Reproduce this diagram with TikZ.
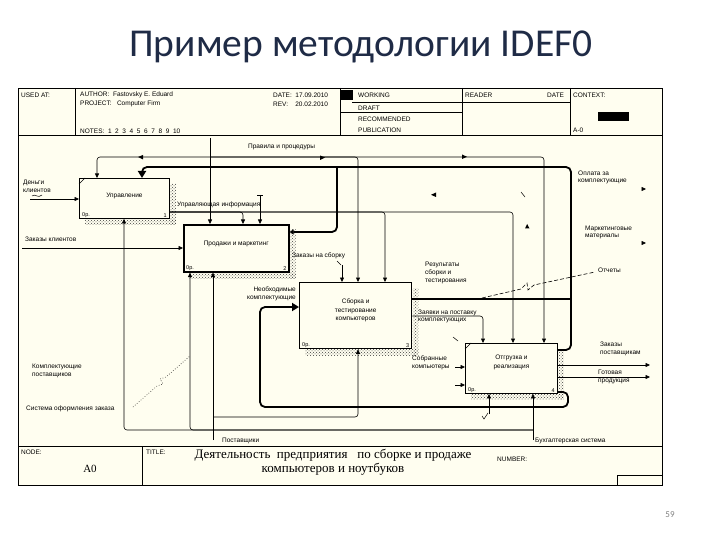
\documentclass[tikz,border=0pt]{standalone}
\usepackage{fontspec}
\setmainfont{Liberation Sans}
\newfontfamily\slidefont{Carlito}
\newfontfamily\serifface{Liberation Serif}
\usetikzlibrary{arrows.meta,calc,patterns}
\definecolor{cream}{HTML}{FFFEF0}
\definecolor{navy}{HTML}{1F2B46}
\newcommand{\boxshade}[1]{%
  \fill[pattern=crosshatch dots,pattern color=black!75] ($(#1.north east)+(0.5,6)$) rectangle ($(#1.south east)+(6,6)$);
  \fill[pattern=crosshatch dots,pattern color=black!75] ($(#1.south west)+(6,0.5)$) rectangle ($(#1.south east)+(6,6)$);}
\begin{document}
\begin{tikzpicture}[x=1pt,y=-1pt,
  lbl/.style={font=\fontsize{6.5}{7.8}\selectfont,inner sep=0pt,anchor=west,align=left},
  hdr/.style={font=\fontsize{6.5}{7}\selectfont,inner sep=0pt,anchor=west},
  fbox/.style={draw,fill=cream,line width=0.9pt,anchor=north west,inner sep=0pt},
  btxt/.style={font=\fontsize{6.5}{8.5}\selectfont,inner sep=0pt,align=center},
  corner/.style={font=\fontsize{5.5}{6}\selectfont,inner sep=0pt},
  ln/.style={draw,line width=0.6pt,rounded corners=3pt},
  thk/.style={draw,line width=1.8pt,rounded corners=5pt},
  tip/.style={-{Triangle[length=4.5pt,width=4pt]}},
  bigtip/.style={-{Triangle[length=7pt,width=8pt]}},
  smalltip/.style={-{Triangle[length=4pt,width=5pt]}},
]
\useasboundingbox (0,0) rectangle (720,540);
\fill[white] (0,0) rectangle (720,540);
\node[font=\slidefont\fontsize{39.5}{41}\selectfont,text=navy,inner sep=0pt] (title) at (361,47) {Пример методологии IDEF0};
\node[font=\slidefont\fontsize{9}{10}\selectfont,text=gray,inner sep=0pt] (pg) at (670,515) {59};
% frame
\fill[cream] (18,88) rectangle (662,485);
\draw[line width=0.7pt] (18,88) rectangle (662,485);
% header
\draw[line width=0.7pt] (18,135) -- (662,135);
\draw[line width=0.6pt] (75,88) -- (75,135) (340,88) -- (340,135) (462,88) -- (462,135) (570,88) -- (570,135);
\draw[line width=0.6pt] (352,102) -- (570,102) (340,112) -- (462,112);
\fill (340,90) rectangle (353,100);
\fill (598,112) rectangle (629,121);
\node[hdr] (ua) at (21,95) {USED AT:};
\node[hdr] (au) at (80,95) {AUTHOR:\ \ Fastovsky E. Eduard};
\node[hdr] (pr) at (80,104) {PROJECT:\ \ \ Computer Firm};
\node[hdr] (dt) at (273,95) {DATE:\ \ 17.09.2010};
\node[hdr] (rv) at (273,104) {REV:\ \ \ \ 20.02.2010};
\node[hdr] (nt) at (80,131) {NOTES:\ \ 1\ \ 2\ \ 3\ \ 4\ \ 5\ \ 6\ \ 7\ \ 8\ \ 9\ \ 10};
\node[hdr] (wk) at (358,95) {WORKING};
\node[hdr] (dr) at (358,108) {DRAFT};
\node[hdr] (rc) at (358,119) {RECOMMENDED};
\node[hdr] (pb) at (358,130) {PUBLICATION};
\node[hdr] (rd) at (465,95) {READER};
\node[hdr] (rdt) at (547,95) {DATE};
\node[hdr] (ctx) at (573,95) {CONTEXT:};
\node[hdr] (a0c) at (573,130) {A-0};
% footer
\draw[line width=0.7pt] (18,446) -- (662,446);
\draw[line width=0.6pt] (142,446) -- (142,485);
\draw[line width=0.6pt] (617,475) rectangle (662,485);
\node[hdr] (nd) at (21,452) {NODE:};
\node[font=\serifface\fontsize{11}{12}\selectfont,inner sep=0pt] (a0) at (90,469) {A0};
\node[hdr] (tl) at (146,452) {TITLE:};
\node[font=\serifface\fontsize{13}{13.5}\selectfont,inner sep=0pt,align=center] (ttl) at (333,462) {Деятельность\ \ предприятия\ \ \ по сборке и\ продаже\\компьютеров и ноутбуков};
\node[hdr] (num) at (497,459) {NUMBER:};

% boxes
\node[fbox,minimum width=90pt,minimum height=40pt] (b1) at (79,178) {};
\node[fbox,line width=1.6pt,minimum width=105pt,minimum height=47pt] (b2) at (183,224) {};
\node[fbox,line width=1.3pt,minimum width=112pt,minimum height=66pt] (b3) at (299,282) {};
\node[fbox,minimum width=92pt,minimum height=50pt] (b4) at (465,343) {};
\boxshade{b1}\boxshade{b2}\boxshade{b3}\boxshade{b4}
\draw[line width=0.6pt] ($(b1.north west)+(0,6)$) -- ($(b1.north west)+(6,0)$);
\draw[line width=0.6pt] ($(b4.north west)+(0,6)$) -- ($(b4.north west)+(6,0)$);
\node[btxt] (t1) at ($(b1.center)+(0,-3)$) {Управление};
\node[btxt] (t2) at ($(b2.center)+(0,-4)$) {Продажи и маркетинг};
\node[btxt] (t3) at ($(b3.center)+(0,-5)$) {Сборка и\\тестирование\\компьютеров};
\node[btxt] (t4) at ($(b4.center)+(0,-6)$) {Отгрузка и\\реализация};
\foreach \b/\n in {b1/1,b2/2,b3/3,b4/4}{
  \node[corner,anchor=south west] (c\b) at ($(\b.south west)+(3,-1.5)$) {0р.};
  \node[corner,anchor=south east] (n\b) at ($(\b.south east)+(-3,-1.5)$) {\n};
}

% rules and procedures
\coordinate (rsrc) at (210,138);
\coordinate (rj) at (210,157);
\draw[ln,tip] (rsrc) -- ($(b2.north west)+(27,0)$);
\draw[ln,tip] (rj) -| ($(b1.north west)+(18,0)$);
\draw[ln,tip] (rj) -| ($(b3.north west)+(59,0)$);
\draw[ln,tip] (rj) -| ($(b4.north west)+(79,0)$);
\node[lbl] (lrules) at (248,147) {Правила и процедуры};

% control information
\coordinate (ci) at ($(b1.north east)+(0,34)$);
\draw[ln,tip] (ci) -| ($(b2.north west)+(60,0)$);
\draw[ln,tip] (ci) -| ($(b3.north west)+(86,0)$);
\draw[ln,tip] (ci) -| ($(b4.north west)+(48,0)$);
\node[lbl] (lci) at (177,205) {Управляющая информация};
\coordinate (tun) at (260,195);
\draw[line width=0.6pt] ($(tun)+(-3,0)$) -- ($(tun)+(3,0)$);
\draw[ln,tip] (tun) -- ($(b2.north west)+(77,0)$);

% orders for assembly
\coordinate (oa) at (342,265);
\draw[ln,tip] (oa) -- ($(b3.north west)+(43,0)$);
\draw[line width=0.5pt] (337,261) -- (341,265);
\node[lbl] (loa) at (292,256) {Заказы на сборку};

% thick feedback
\coordinate (fj) at (571,299);
\coordinate (fc) at (337,167);
\draw[thk] ($(b3.north east)+(0,17)$) -- (fj);
\draw[thk] ($(b4.north east)+(0,7)$) -| (fj);
\draw[thk,bigtip] (fj) |- ($(b1.north west)+(63,-11)$) -- ($(b1.north west)+(63,0)$);
\draw[thk,smalltip] (fc) |- ($(b2.north east)+(0,8)$);
\node[lbl] (lres) at (425,273) {Результаты\\сборки и\\тестирования};

% requests for components
\draw[ln,tip] ($(b3.north east)+(0,34)$) -| ($(b4.north west)+(18,0)$);
\node[lbl] (lreq) at (418,316.5) {Заявки на поставку\\комплектующих};

% necessary components loop
\coordinate (lp1) at (568,407);
\coordinate (lp2) at (260,407);
\draw[thk,bigtip] ($(b4.north east)+(0,49)$) -| (lp1) -- (lp2) |- ($(b3.north west)+(0,25)$);
\node[lbl,anchor=east,align=right] (lnec) at (296,294) {Необходимые\\комплектующие};

% inputs
\coordinate (money) at (30,199);
\draw[ln,tip] (money) -- ($(b1.north west)+(0,21)$);
\draw[line width=0.5pt] (32,196) .. controls (35,193) and (38,199) .. (42,195);
\node[lbl] (lmoney) at (23,186) {Деньги\\клиентов};
\coordinate (cord) at (22,248);
\draw[ln,tip] (cord) -- ($(b2.north west)+(0,24)$);
\node[lbl] (lcord) at (25,239) {Заказы клиентов};
\coordinate (s1) at (455,367);
\coordinate (s2) at (455,385);
\draw[ln,tip] (s1) -- ($(b4.north west)+(0,24)$);
\draw[ln,tip] (s2) -- ($(b4.north west)+(0,42)$);
\node[lbl] (lasm) at (412,363) {Собранные\\компьютеры};
\draw[line width=0.5pt] (453,337) -- (458,341);

% outputs
\coordinate (o1) at (650,365);
\coordinate (o2) at (650,377);
\draw[ln,tip] ($(b4.north east)+(0,22)$) -- (o1);
\draw[ln,tip] ($(b4.north east)+(0,34)$) -- (o2);
\node[lbl] (lo1) at (600,349) {Заказы\\поставщикам};
\node[lbl] (lo2) at (598,377) {Готовая\\продукция};
\coordinate (pay) at (646,189);
\coordinate (mkt) at (646,243);
\draw[tip,line width=0.6pt] ($(pay)+(-4,0)$) -- (pay);
\draw[tip,line width=0.6pt] ($(mkt)+(-4,0)$) -- (mkt);
\node[lbl] (lpay) at (578,177.5) {Оплата за\\комплектующие};
\node[lbl] (lmkt) at (585,232.5) {Маркетинговые\\материалы};
\node[lbl] (lrep) at (598,270) {Отчеты};
\draw[line width=0.6pt,dash pattern=on 4pt off 2pt] (482,298) -- (521,289) -- (527,283) -- (528,290) -- (534,285) -- (595,272);

% small marks
\fill (143,155) -- (143,159.5) -- (138,157) -- cycle;
\fill (320,155.5) -- (320,160) -- (325,157.5) -- cycle;
\fill (462,154.5) -- (462,159) -- (467,156.8) -- cycle;
\fill (436,192.5) -- (436,197) -- (431,194.8) -- cycle;
\fill (525,228.5) -- (529.5,228.5) -- (527.2,224) -- cycle;
\draw[line width=0.5pt] (521,192) -- (525,197);

% mechanisms
\coordinate (acc) at (533,440);
\coordinate (mj) at (533,430);
\draw[ln,tip] (acc) -- ($(b4.south west)+(68,0)$);
\draw[ln,tip] (mj) -| ($(b1.south west)+(45,0)$);
\draw[ln,tip] (mj) -| ($(b2.south west)+(7,0)$);
\node[lbl] (lacc) at (535,441) {Бухгалтерская система};
\coordinate (sup) at (213,440);
\coordinate (sj) at (213,417);
\draw[ln,tip] (sup) -- ($(b2.south west)+(30,0)$);
\draw[ln,tip] (sj) -| ($(b3.south west)+(59,0)$);
\node[lbl] (lsup) at (222,441) {Поставщики};
\coordinate (m4) at (489,414);
\draw[ln,tip] (m4) -- ($(b4.south west)+(24,0)$);
\draw[line width=0.5pt] (482,416) -- (484,419) -- (488,413);
\node[lbl] (lcs) at (32,371) {Комплектующие\\поставщиков};
\node[lbl] (lsys) at (26,409) {Система оформления заказа};
\draw[line width=0.6pt,dotted] (133,407) -- (157,386) -- (163,384) -- (160,379) -- (166,377) -- (190,356);
\end{tikzpicture}
\end{document}
